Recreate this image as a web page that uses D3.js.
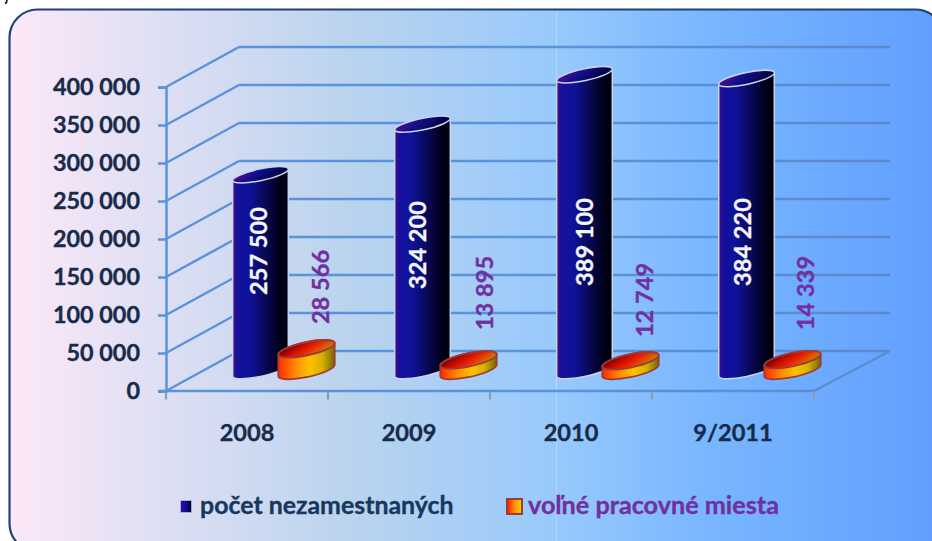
<!DOCTYPE html>
<html>
<head>
<meta charset="utf-8">
<script src="https://cdn.jsdelivr.net/npm/d3@7"></script>
<style>
  html, body { margin: 0; padding: 0; background: #fff; }
  svg { display: block; }
  text { font-family: Lato, "Open Sans", sans-serif; font-weight: 700; stroke-width: 0.35; paint-order: stroke; }
</style>
</head>
<body>
<svg id="chart" width="932" height="541"></svg>
<script>
// data
var categories = ['2008', '2009', '2010', '9/2011'];
var unemployed = [257500, 324200, 389100, 384220];
var vacancies = [28566, 13895, 12749, 14339];
var yTicks = [0, 50000, 100000, 150000, 200000, 250000, 300000, 350000, 400000];
var seriesNames = ['počet nezamestnaných', 'voľné pracovné miesta'];

// hand placed labels in the original, so offsets from the bar are kept apart from the data
var unemployedLabelY = [251, 245, 242, 242];
var unemployedLabelDx = [-2, -5, 0, -4];
var vacancyLabelY = [287, 293, 300, 293];
var vacancyLabelDx = [14, 16, 14, 13];

var width = 932, height = 541;
var depth = { x: 73, y: -40 };
var fmt = function (v) { return d3.format(',')(v).replace(/,/g, ' '); };

var svg = d3.select('#chart');
var defs = svg.append('defs');

var linearGrad = function (id, stops, x1, y1, x2, y2) {
  var g = defs.append('linearGradient').attr('id', id)
    .attr('x1', x1 || 0).attr('y1', y1 || 0).attr('x2', x2 === undefined ? 1 : x2).attr('y2', y2 || 0);
  stops.forEach(function (s) {
    g.append('stop').attr('offset', s[0]).attr('stop-color', s[1]);
  });
};

linearGrad('bg', [[0, '#fce8f8'], [0.36, '#bbd4ee'], [0.59, '#97c9fc'], [0.75, '#79b6ff'], [1, '#5f9eff']]);
linearGrad('blueBody', [[0, '#4a0a8c'], [0.09, '#14109c'], [0.3, '#10129a'], [0.62, '#07084f'], [0.85, '#000018'], [1, '#000010']]);
linearGrad('blueTop', [[0, '#5a0a90'], [0.35, '#14108c'], [1, '#000038']], 0, 0.3, 1, 0.7);
linearGrad('orangeBody', [[0, '#ff2a00'], [0.3, '#ff8a00'], [0.55, '#ffc000'], [0.78, '#d8b000'], [1, '#6f6a00']]);
linearGrad('orangeTop', [[0, '#5a0000'], [0.3, '#c00800'], [0.55, '#e82000'], [1, '#c89000']], 0, 0.2, 1, 0.8);
linearGrad('legendBlue', [[0, '#2a08b0'], [0.45, '#10109a'], [1, '#000020']]);
linearGrad('legendOrange', [[0, '#ff1000'], [0.5, '#ff9000'], [1, '#ffd000']]);

// panel, runs off the bottom and right of the page
svg.append('rect')
  .attr('x', 9.5).attr('y', 9.5)
  .attr('width', 934).attr('height', 542)
  .attr('rx', 28).attr('ry', 28)
  .attr('fill', 'url(#bg)')
  .attr('stroke', '#1f4472')
  .attr('stroke-width', 2.2);

// faint seam in the source background
svg.append('line').attr('x1', 556.5).attr('x2', 556.5).attr('y1', 11).attr('y2', 541)
  .attr('stroke', '#fff').attr('stroke-opacity', 0.28);

var xScale = d3.scaleBand().domain(categories).range([166, 814]);
var yScale = d3.scaleLinear().domain([0, 400000]).range([391, 87]);

linearGrad('gridLine', [[0, '#5a92dc'], [0.55, '#5a92dc'], [1, '#5b88c8']]);
d3.select('#gridLine').attr('gradientUnits', 'userSpaceOnUse').attr('x1', 239).attr('x2', 890).attr('y1', 0).attr('y2', 0);
linearGrad('floorLine', [[0, '#5a92dc'], [0.6, '#5a92dc'], [1, '#5b8ccf']]);
d3.select('#floorLine').attr('gradientUnits', 'userSpaceOnUse').attr('x1', 158).attr('x2', 814).attr('y1', 0).attr('y2', 0);

// 3d walls
var grid = svg.append('g').attr('fill', 'none').attr('stroke-width', 2.5);

grid.selectAll('line.back').data(yTicks).enter().append('line')
  .attr('class', 'back')
  .attr('x1', 166 + depth.x).attr('x2', 814 + depth.x + 3)
  .attr('y1', function (d) { return yScale(d) + depth.y; })
  .attr('y2', function (d) { return yScale(d) + depth.y; })
  .attr('stroke', 'url(#gridLine)');

grid.selectAll('line.side').data(yTicks).enter().append('line')
  .attr('class', 'side')
  .attr('x1', 166).attr('x2', 166 + depth.x)
  .attr('y1', function (d) { return yScale(d); })
  .attr('y2', function (d) { return yScale(d) + depth.y; })
  .attr('stroke', '#5a92dc');

// floor
grid.append('line').attr('x1', 814).attr('x2', 814 + depth.x + 3)
  .attr('y1', yScale(0)).attr('y2', yScale(0) + depth.y)
  .attr('stroke', '#5b8ccf');
grid.append('line').attr('x1', 158).attr('x2', 814)
  .attr('y1', yScale(0)).attr('y2', yScale(0))
  .attr('stroke', 'url(#floorLine)');

// y axis
var yAxis = svg.append('g')
  .attr('transform', 'translate(166,0)')
  .call(d3.axisLeft(yScale).tickValues(yTicks).tickFormat(fmt).tickSize(8).tickPadding(18));
yAxis.select('.domain').attr('stroke', '#5a92dc').attr('stroke-width', 2.5);
yAxis.selectAll('.tick line').attr('stroke', '#5a92dc').attr('stroke-width', 2.5);
yAxis.selectAll('.tick text')
  .attr('fill', '#172b4a').attr('stroke', '#172b4a').attr('font-size', 23.4)
  .style('font-family', 'Lato, sans-serif').style('font-weight', 700);

// x axis, ticks sit between the categories
var xAxisG = svg.append('g').attr('transform', 'translate(0,' + yScale(0) + ')');
xAxisG.selectAll('line').data(d3.range(categories.length + 1)).enter().append('line')
  .attr('x1', function (i) { return 166 + i * xScale.bandwidth(); })
  .attr('x2', function (i) { return 166 + i * xScale.bandwidth(); })
  .attr('y1', 1).attr('y2', 8.5)
  .attr('stroke', '#8c9cb4').attr('stroke-width', 2.2);
xAxisG.selectAll('text').data(categories).enter().append('text')
  .attr('x', function (d) { return xScale(d) + xScale.bandwidth() / 2; })
  .attr('y', 50)
  .attr('text-anchor', 'middle')
  .attr('fill', '#172b4a').attr('stroke', '#172b4a').attr('font-size', 23.6)
  .text(function (d) { return d; });

// cylinders
var tilt = -12 * Math.PI / 180;
var floorY = yScale(0) - 20.5;      // bars stand half way into the depth
var heightOf = function (v) { return yScale(0) - yScale(v); };

var cylinder = function (g, cx, v, conf) {
  var a = conf.rx, b = conf.ry;
  var W = Math.sqrt(a * a * Math.cos(tilt) * Math.cos(tilt) + b * b * Math.sin(tilt) * Math.sin(tilt));
  var dy = (a * a - b * b) * Math.sin(-tilt) * Math.cos(tilt) / W;
  var top = floorY - heightOf(v);
  var rot = tilt * 180 / Math.PI;
  var arc = 'A' + a + ' ' + b + ' ' + rot + ' 0 0 ';
  var body = 'M' + (cx - W) + ',' + (top + dy) +
    'L' + (cx - W) + ',' + (floorY + dy) +
    arc + (cx + W) + ',' + (floorY - dy) +
    'L' + (cx + W) + ',' + (top - dy) +
    arc + (cx - W) + ',' + (top + dy) + 'Z';
  g.append('path').attr('d', body)
    .attr('fill', conf.body)
    .attr('stroke', conf.stroke).attr('stroke-width', conf.sw);
  g.append('ellipse')
    .attr('rx', a).attr('ry', b)
    .attr('transform', 'translate(' + cx + ',' + top + ') rotate(' + rot + ')')
    .attr('fill', conf.top)
    .attr('stroke', conf.stroke).attr('stroke-width', conf.sw);
};

var blueConf = { rx: 28.4, ry: 5.8, body: 'url(#blueBody)', top: 'url(#blueTop)', stroke: '#c5d6ee', sw: 1.5 };
var orangeConf = { rx: 28.8, ry: 6.6, body: 'url(#orangeBody)', top: 'url(#orangeTop)', stroke: '#a03a38', sw: 1.8 };

var bars = svg.append('g');
categories.forEach(function (c, i) {
  var mid = xScale(c) + xScale.bandwidth() / 2 + depth.x / 2;
  cylinder(bars, mid - 23, unemployed[i], blueConf);
  cylinder(bars, mid + 23, vacancies[i], orangeConf);
});

// value labels
var vertical = function (x, y, txt, fill) {
  svg.append('text')
    .attr('transform', 'translate(' + x + ',' + y + ') rotate(-90)')
    .attr('text-anchor', 'middle')
    .attr('dy', '0.35em')
    .attr('fill', fill).attr('stroke', fill)
    .attr('font-size', 23.6)
    .text(txt);
};
categories.forEach(function (c, i) {
  var mid = xScale(c) + xScale.bandwidth() / 2 + depth.x / 2;
  vertical(mid - 23 + unemployedLabelDx[i], unemployedLabelY[i], fmt(unemployed[i]), '#f4f6fb');
  vertical(mid + 23 + vacancyLabelDx[i], vacancyLabelY[i], fmt(vacancies[i]), '#7030a0');
});

// legend
var legend = svg.append('g');
legend.append('rect').attr('x', 180.5).attr('y', 500.5).attr('width', 11).attr('height', 12)
  .attr('fill', 'url(#legendBlue)').attr('stroke', '#c5d6ee').attr('stroke-width', 0.6);
legend.append('text').attr('x', 200).attr('y', 514).attr('font-size', 24.9)
  .attr('fill', '#17375e').attr('stroke', '#17375e').text(seriesNames[0]);
legend.append('rect').attr('x', 507).attr('y', 499).attr('width', 15).attr('height', 15)
  .attr('fill', 'url(#legendOrange)').attr('stroke', '#a03a38').attr('stroke-width', 2);
legend.append('text').attr('x', 528).attr('y', 514).attr('font-size', 25.2)
  .attr('fill', '#7030a0').attr('stroke', '#7030a0').text(seriesNames[1]);

// speck at the top left edge of the source crop
svg.append('path').attr('d', 'M7,0 L6.5,2.5 L5,3.5').attr('fill', 'none')
  .attr('stroke', '#111').attr('stroke-width', 1.6);
</script>
</body>
</html>
